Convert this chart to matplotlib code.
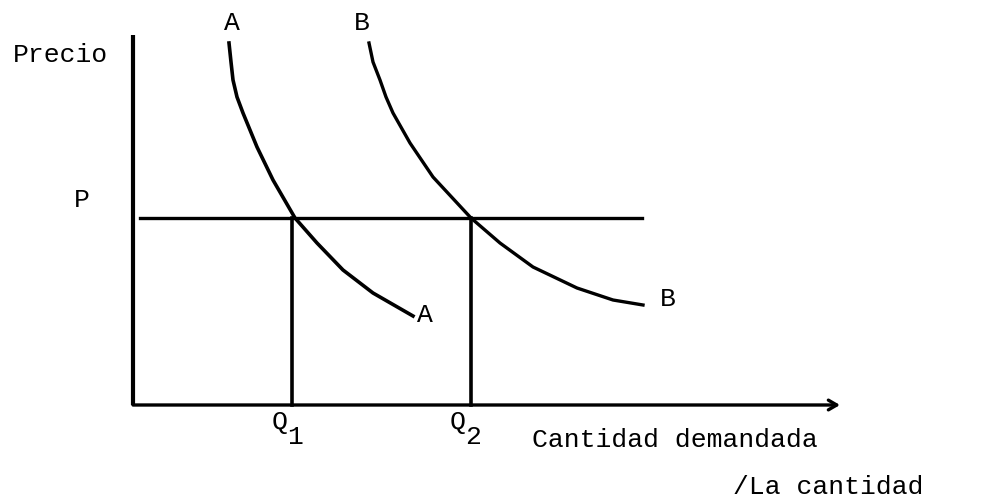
import matplotlib
matplotlib.use("Agg")
import matplotlib.pyplot as plt

# demand diagram, units: quantity (x) and price (y)
precio_p = 187
q1 = 159
q2 = 338
y_axis_top = 370
x_axis_end = 707
p_line_end = 509

curve_a_q = [96, 98, 100, 104, 110, 124, 140, 162, 184, 210, 240, 280]
curve_a_p = [362, 343, 325, 308, 292, 258, 225, 187, 162, 135, 112, 89]
curve_b_q = [236, 240, 247, 253, 260, 277, 300, 338, 367, 400, 444, 480, 510]
curve_b_p = [362, 343, 325, 308, 292, 262, 228, 187, 162, 138, 117, 105, 100]

fig = plt.figure(figsize=(10.02, 5.03), dpi=100)
ax = fig.add_axes([0, 0, 1, 1])
ax.set_xlim(-133, 869)
ax.set_ylim(-98, 405)
ax.axis("off")

ink = "black"
font = dict(family="Liberation Mono", fontsize=19, color=ink)

# axes
ax.plot([0, 0], [0, y_axis_top], color=ink, lw=3.0, solid_capstyle="butt")
ax.annotate("", xy=(x_axis_end, 0), xytext=(0, 0),
            arrowprops=dict(arrowstyle="->,head_length=0.6,head_width=0.35",
                            color=ink, lw=2.4, shrinkA=0, shrinkB=0))

# price line and quantity drops
ax.plot([7, p_line_end], [precio_p, precio_p], color=ink, lw=2.4)
ax.plot([q1, q1], [0, precio_p], color=ink, lw=2.6)
ax.plot([q2, q2], [0, precio_p], color=ink, lw=2.6)

# demand curves
ax.plot(curve_a_q, curve_a_p, color=ink, lw=2.6, solid_joinstyle="round")
ax.plot(curve_b_q, curve_b_p, color=ink, lw=2.4, solid_joinstyle="round")

# labels
ax.text(-72, 350, "Precio", ha="center", va="center", **font)
ax.text(-51, 205, "P", ha="center", va="center", **font)
ax.text(99, 382, "A", ha="center", va="center", **font)
ax.text(229, 382, "B", ha="center", va="center", **font)
ax.text(292, 90, "A", ha="center", va="center", **font)
ax.text(535, 106, "B", ha="center", va="center", **font)
ax.text(147, -17, "Q", ha="center", va="center", **font)
ax.text(162, -32, "1", ha="center", va="center", **font)
ax.text(325, -17, "Q", ha="center", va="center", **font)
ax.text(340, -32, "2", ha="center", va="center", **font)
ax.text(399, -35, "Cantidad demandada", ha="left", va="center", **font)
ax.text(600, -82, "/La cantidad", ha="left", va="center", **font)

fig.savefig("out.png", dpi=100)
plt.close(fig)
